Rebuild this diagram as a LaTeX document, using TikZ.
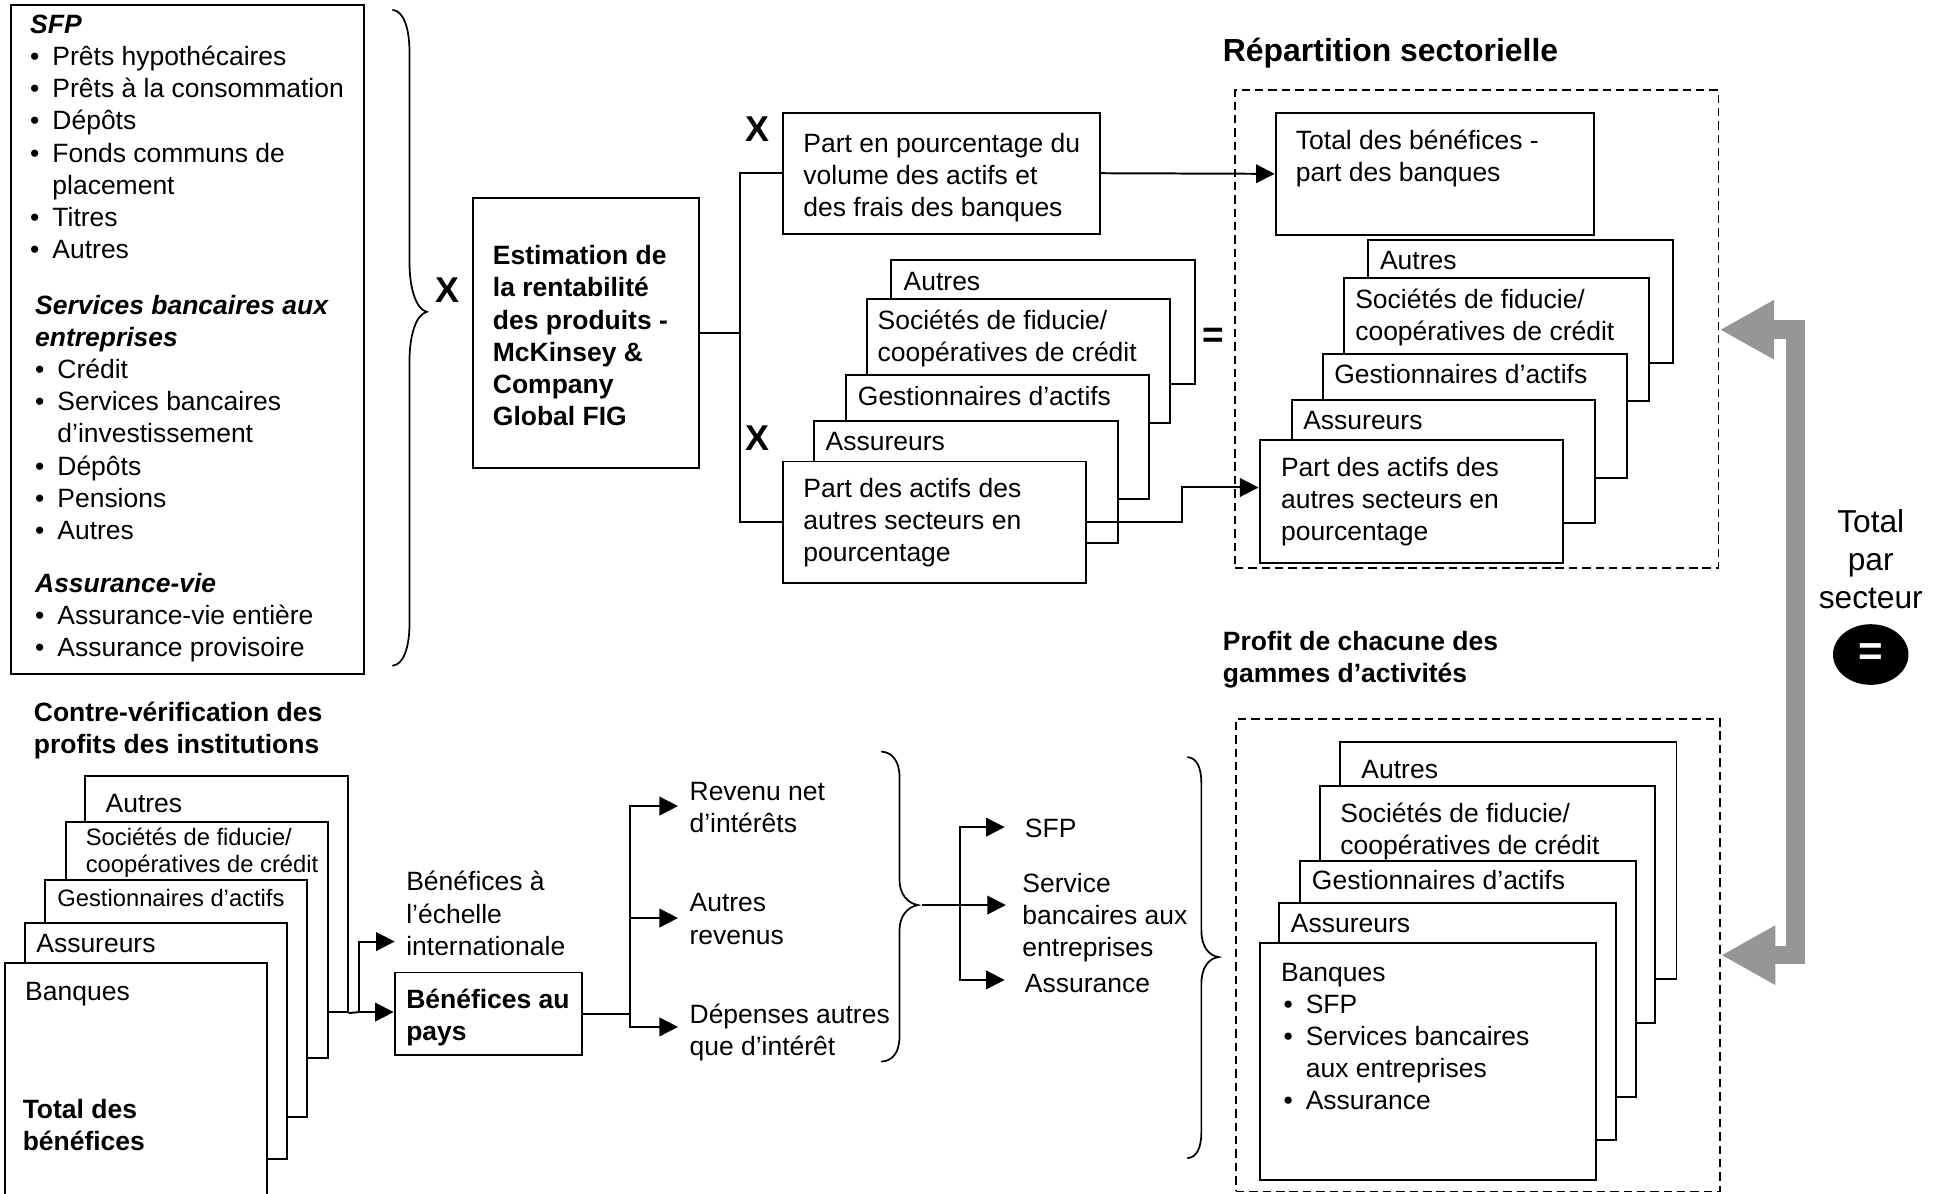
\documentclass[tikz,border=0pt]{standalone}
\usepackage{fontspec}
\setmainfont{Liberation Sans}
\usetikzlibrary{arrows.meta,fit,shapes.geometric}
\definecolor{arrowgrey}{RGB}{150,150,150}
\newcommand{\blt}{\makebox[9pt][l]{•}}
\tikzset{
  sbox/.style={draw, line width=0.8pt, fill=white, inner sep=0pt},
  dbox/.style={draw, line width=0.7pt, dash pattern=on 3.4pt off 2pt, inner sep=0pt},
  txt/.style={inner sep=0pt, anchor=base west, align=left, font=\fontsize{10.7}{13}\selectfont},
  stxt/.style={txt, font=\fontsize{9.6}{11}\selectfont},
  btxt/.style={txt, font=\fontsize{10.7}{13}\selectfont\bfseries},
  link/.style={line width=0.8pt},
  arr/.style={link, -{Triangle[length=7.5pt,width=7.5pt]}},
  wbrace/.style={line width=0.7pt, line cap=round},
  bigx/.style={inner sep=0pt, font=\fontsize{14.5}{16}\selectfont\bfseries},
  greyarrow/.style={line width=7.5pt, draw=arrowgrey, line join=miter,
    {Triangle[length=22pt,width=22.5pt]}-{Triangle[length=22pt,width=22.5pt]}},
}
\begin{document}
\begin{tikzpicture}[x=0.5pt,y=-0.5pt]
\useasboundingbox (0,0) rectangle (1568,965);
\fill[white] (0,0) rectangle (1568,965);

% multi-line text nodes are placed at the baseline of their LAST line

% ---------- left list box ----------
\node[sbox, fit={(9,4) (294,545)}] (lbox) {};
\node[txt] (sec1) at (24,209) {\textbf{\textit{SFP}}\\ \blt Prêts hypothécaires\\ \blt Prêts à la consommation\\ \blt Dépôts\\ \blt Fonds communs de\\ \hspace*{9pt}placement\\ \blt Titres\\ \blt Autres};
\node[txt] (sec2) at (28,436) {\textbf{\textit{Services bancaires aux}}\\ \textbf{\textit{entreprises}}\\ \blt Crédit\\ \blt Services bancaires\\ \hspace*{9pt}d’investissement\\ \blt Dépôts\\ \blt Pensions\\ \blt Autres};
\node[txt] (sec3) at (28,531) {\textbf{\textit{Assurance-vie}}\\ \blt Assurance-vie entière\\ \blt Assurance provisoire};

% left brace
\draw[wbrace] (317.5,8) .. controls (326,9) and (331,22) .. (331,43) -- (331,213)
  .. controls (331,232) and (336,250) .. (345,252)
  .. controls (336,254) and (331,272) .. (331,291) -- (331,503)
  .. controls (331,524) and (326,537) .. (317.5,538);
\node[bigx] (x1) at (361.5,234.5) {X};

% ---------- estimation box ----------
\node[sbox, fit={(382,160) (565,378)}] (est) {};
\node[btxt] (estT) at (398,344) {Estimation de\\la rentabilité\\des produits -\\McKinsey \&\\Company\\Global FIG};

\node[bigx] (x2) at (612,104) {X};
\node[bigx] (x3) at (612,354) {X};

\node[sbox, fit={(633,91) (889,189)}] (pp) {};
\node[txt] (ppT) at (649,175) {Part en pourcentage du\\volume des actifs et\\des frais des banques};

% middle stack
\node[sbox, fit={(720,210) (966,310)}] (mA) {};
\node[txt] (mAT) at (730,235) {Autres};
\node[sbox, fit={(701,242) (946,342)}] (mS) {};
\node[txt] (mST) at (709,292) {Sociétés de fiducie/\\coopératives de crédit};
\node[sbox, fit={(684,303) (929,403)}] (mG) {};
\node[txt] (mGT) at (693,328) {Gestionnaires d’actifs};
\node[sbox, fit={(658,340) (904,439)}] (mR) {};
\node[txt] (mRT) at (667,364) {Assureurs};
\node[sbox, fit={(633,373) (878,471)}] (pa) {};
\node[txt] (paT) at (649,454) {Part des actifs des\\autres secteurs en\\pourcentage};

\node[inner sep=0pt, font=\fontsize{15}{15}\selectfont\bfseries] (eq1) at (981,273) {=};

% ---------- upper right ----------
\node[txt, font=\fontsize{12.9}{15}\selectfont\bfseries] (title1) at (988,50) {Répartition sectorielle};
\node[dbox, fit={(998,73) (1389,459)}] (d1) {};
\node[sbox, fit={(1031,91) (1288,190)}] (tot) {};
\node[txt] (totT) at (1047,147) {Total des bénéfices -\\part des banques};
\node[sbox, fit={(1106,194) (1352,293)}] (rA) {};
\node[txt] (rAT) at (1115,218) {Autres};
\node[sbox, fit={(1086,225) (1333,324)}] (rS) {};
\node[txt] (rST) at (1095,275) {Sociétés de fiducie/\\coopératives de crédit};
\node[sbox, fit={(1069,286) (1315,386)}] (rG) {};
\node[txt] (rGT) at (1078,310) {Gestionnaires d’actifs};
\node[sbox, fit={(1044,323) (1289,423)}] (rR) {};
\node[txt] (rRT) at (1053,347) {Assureurs};
\node[sbox, fit={(1018,356) (1263,455)}] (rpa) {};
\node[txt] (rpaT) at (1035,437) {Part des actifs des\\autres secteurs en\\pourcentage};

% ---------- total par secteur ----------
\node[inner sep=0pt, anchor=base, align=center, font=\fontsize{12.8}{15.5}\selectfont] (tps) at (1512,492) {Total\\par\\secteur};
\node[ellipse, fill=black, minimum width=30.5pt, minimum height=24.5pt, inner sep=0pt,
  text=white, font=\fontsize{17}{17}\selectfont\bfseries] (eqc) at (1512,529) {=};

% ---------- lower right ----------
\node[btxt] (title2) at (988,552) {Profit de chacune des\\gammes d’activités};
\node[dbox, fit={(999,581) (1390,963)}] (d2) {};
\node[sbox, fit={(1083,600) (1355,791)}] (bA) {};
\node[txt] (bAT) at (1100,629) {Autres};
\node[sbox, fit={(1067,635) (1338,827)}] (bS) {};
\node[txt] (bST) at (1083,691) {Sociétés de fiducie/\\coopératives de crédit};
\node[sbox, fit={(1051,696) (1322,887)}] (bG) {};
\node[txt] (bGT) at (1060,719) {Gestionnaires d’actifs};
\node[sbox, fit={(1034,730) (1306,921)}] (bR) {};
\node[txt] (bRT) at (1043,754) {Assureurs};
\node[sbox, fit={(1018,762) (1290,954)}] (bB) {};
\node[txt] (bBT) at (1035,897) {Banques\\ \hspace*{1pt}\blt SFP\\ \hspace*{1pt}\blt Services bancaires\\ \hspace*{10pt}aux entreprises\\ \hspace*{1pt}\blt Assurance};

% ---------- lower left ----------
\node[btxt] (title3) at (27,609) {Contre-vérification des\\profits des institutions};
\node[sbox, fit={(69,627) (281,818)}] (lA) {};
\node[txt] (lAT) at (85,657) {Autres};
\node[sbox, fit={(53,664) (265,855)}] (lS) {};
\node[stxt] (lST) at (69,705) {Sociétés de fiducie/\\coopératives de crédit};
\node[sbox, fit={(36,711) (248,903)}] (lG) {};
\node[stxt] (lGT) at (46,733) {Gestionnaires d’actifs};
\node[sbox, fit={(20,746) (232,937)}] (lR) {};
\node[txt] (lRT) at (29,770) {Assureurs};
\node[sbox, fit={(4,778) (216,995)}] (lB) {};
\node[txt] (lBT) at (20,809) {Banques};
\node[btxt] (lBT2) at (18,930) {Total des\\bénéfices};

% ---------- bottom middle ----------
\node[txt] (intl) at (328,772) {Bénéfices à\\l’échelle\\internationale};
\node[sbox, fit={(319,786) (470,853)}] (bap) {};
\node[btxt] (bapT) at (328,841) {Bénéfices au\\pays};
\node[txt] (rn) at (557,673) {Revenu net\\d’intérêts};
\node[txt] (ar) at (557,763) {Autres\\revenus};
\node[txt] (dp) at (557,853) {Dépenses autres\\que d’intérêt};
\node[txt] (sfp) at (828,677) {SFP};
\node[txt] (sb) at (826,773) {Service\\bancaires aux\\entreprises};
\node[txt] (as) at (828,802) {Assurance};

% braces bottom
\draw[wbrace] (712.6,607.5) .. controls (721,608) and (727,615) .. (727,628) -- (727,711)
  .. controls (727,722) and (733,730) .. (742,731.5)
  .. controls (733,733) and (727,741) .. (727,752) -- (727,838)
  .. controls (727,851) and (721,857.5) .. (712.6,858);
\draw[wbrace] (960,612) .. controls (967,612.5) and (971,620) .. (971,633) -- (971,752)
  .. controls (971,765) and (977,772.5) .. (985,773.5)
  .. controls (977,774.5) and (971,782) .. (971,795) -- (971,915)
  .. controls (971,928) and (967,935.5) .. (960,936);

% ---------- connectors ----------
\coordinate (j1) at (598,269);
\draw[link] (est.east) -- (j1);
\draw[link] (j1) |- (pp.west);
\draw[link] (j1) |- (pa.west);
\draw[arr] (pp.east) -- (tot.west);
\coordinate (j2) at (955,394);
\draw[arr] (pa.east) -| (j2) -- (j2 -| rpa.west);

\coordinate (g1) at (1390,266.5);
\coordinate (g2) at (1391,772);
\draw[greyarrow] (g1) -- (1451,266.5) -- (1451,772) -- (g2);

\coordinate (j3) at (290,818);
\coordinate (intlIn) at (319,761);
\draw[link] (lA.south east) -- (j3);
\draw[arr] (j3) |- (intlIn);
\draw[arr] (j3) -- (j3 -| bap.west);

\coordinate (j4) at (509,819.5);
\coordinate (rnIn) at (548,651.5);
\coordinate (arIn) at (548,742);
\coordinate (dpIn) at (548,830);
\draw[link] (bap.east) -- (j4);
\draw[arr] (j4) |- (rnIn);
\draw[arr] (j4) |- (arIn);
\draw[arr] (j4) |- (dpIn);

\coordinate (br1) at (745,731.5);
\coordinate (j5) at (776,731.5);
\coordinate (sfpIn) at (812,668.5);
\coordinate (sbIn) at (813,731.5);
\coordinate (asIn) at (812,792);
\draw[arr] (br1) -- (sbIn);
\draw[arr] (j5) |- (sfpIn);
\draw[arr] (j5) |- (asIn);
\end{tikzpicture}
\end{document}
